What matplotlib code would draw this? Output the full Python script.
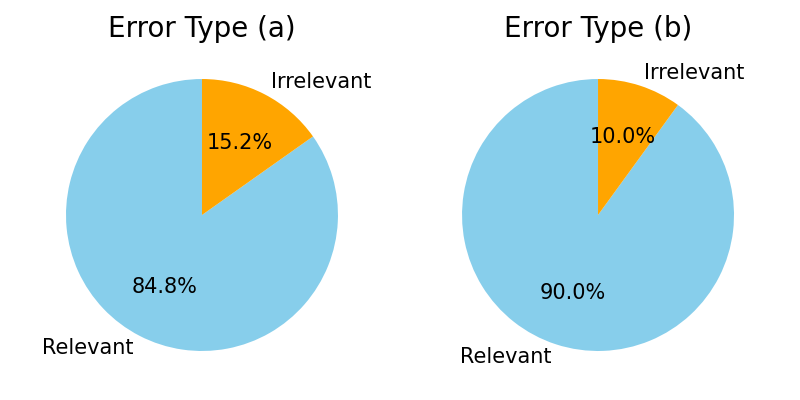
import matplotlib
matplotlib.use("Agg")
import matplotlib.pyplot as plt

labels = ["Relevant", "Irrelevant"]
sizes_a = [84.8, 15.2]
sizes_b = [90.0, 10.0]
colors = ["skyblue", "orange"]

fig, (ax_a, ax_b) = plt.subplots(1, 2, figsize=(8, 4), dpi=100)
fig.subplots_adjust(left=0.04, right=0.96, bottom=0.0375, top=0.8875, wspace=0.165)

for ax, sizes, title in [(ax_a, sizes_a, "Error Type (a)"), (ax_b, sizes_b, "Error Type (b)")]:
    ax.pie(sizes, labels=labels, colors=colors, autopct="%1.1f%%", startangle=90,
           textprops={"fontsize": 15})
    ax.set_title(title, fontsize=20)

fig.savefig("out.png")
